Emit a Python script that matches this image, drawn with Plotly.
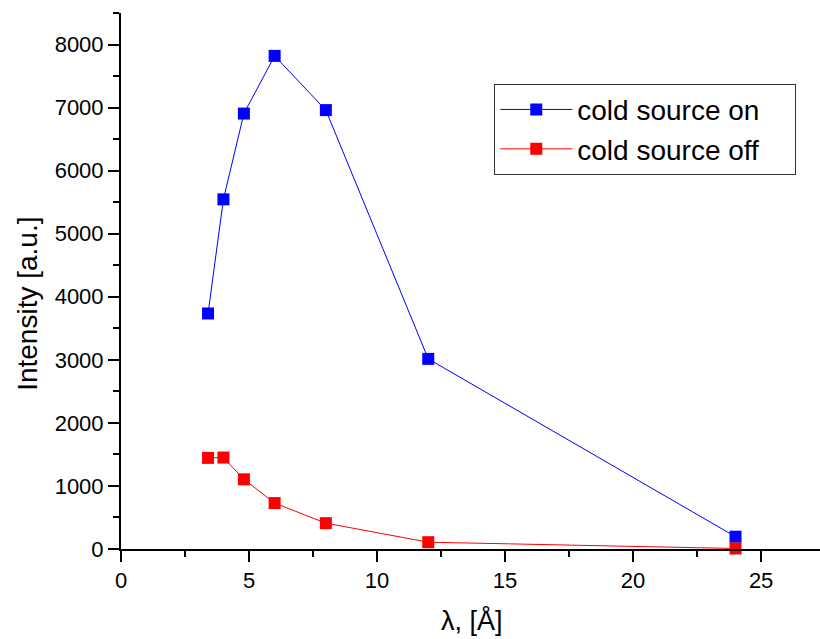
import plotly.graph_objects as go

wavelength = [3.4, 4.0, 4.8, 6.0, 8.0, 12.0, 24.0]
cold_on = [3735, 5545, 6905, 7820, 6960, 3015, 195]
cold_off = [1445, 1450, 1105, 728, 410, 108, 8]

series_names = ["cold source on", "cold source off"]
x_title = "λ, [Å]"
y_title = "Intensity [a.u.]"

FONT = "Arial, Liberation Sans, sans-serif"
PAD = "\u00a0" * 4  # invisible right padding inside the legend box

fig = go.Figure()
fig.add_trace(go.Scatter(
    x=wavelength, y=cold_on, name=series_names[0], mode="lines+markers",
    line=dict(color="#0000FF", width=1),
    marker=dict(symbol="square", size=12, color="#0000FF"),
    cliponaxis=False))
fig.add_trace(go.Scatter(
    x=wavelength, y=cold_off, name=series_names[1] + PAD, mode="lines+markers",
    line=dict(color="#FF0000", width=1),
    marker=dict(symbol="square", size=12, color="#FF0000"),
    cliponaxis=False))

fig.update_layout(
    width=820, height=639,
    margin=dict(l=121, r=0, t=13, b=90, autoexpand=False),
    paper_bgcolor="white", plot_bgcolor="white",
    font=dict(family=FONT, color="black"),
    showlegend=True,
    legend=dict(x=0.534, y=0.868, xanchor="left", yanchor="top",
                bordercolor="#333333", borderwidth=1, bgcolor="white",
                font=dict(size=28, family=FONT), itemwidth=72,
                tracegroupgap=0),
    annotations=[
        dict(text=x_title, xref="paper", yref="paper", x=0.502, y=-0.133,
             xanchor="center", yanchor="middle", showarrow=False,
             font=dict(size=27, family=FONT)),
        dict(text=y_title, xref="paper", yref="paper", x=-0.134, y=0.458,
             xanchor="center", yanchor="middle", showarrow=False, textangle=-90,
             font=dict(size=28, family=FONT)),
    ],
)
fig.update_xaxes(
    range=[0, 27.3], showgrid=False, zeroline=False, automargin=False,
    showline=True, linecolor="black", linewidth=2,
    ticks="outside", ticklen=11, tickwidth=2, tickcolor="black",
    tickvals=[0, 5, 10, 15, 20, 25],
    minor=dict(ticks="outside", ticklen=6, tickwidth=2, tickcolor="black", dtick=2.5, tick0=0),
    tickfont=dict(size=22, family=FONT),
)
fig.update_yaxes(
    range=[0, 8500], showgrid=False, zeroline=False, automargin=False,
    showline=True, linecolor="black", linewidth=2,
    ticks="outside", ticklen=11, tickwidth=2, tickcolor="black",
    tickvals=[0, 1000, 2000, 3000, 4000, 5000, 6000, 7000, 8000],
    minor=dict(ticks="outside", ticklen=6, tickwidth=2, tickcolor="black", dtick=500, tick0=0),
    tickfont=dict(size=22, family=FONT),
)

fig.write_html("out.html", config={"displayModeBar": False},
               post_script="document.body.style.margin='0';document.body.style.overflow='hidden';")
